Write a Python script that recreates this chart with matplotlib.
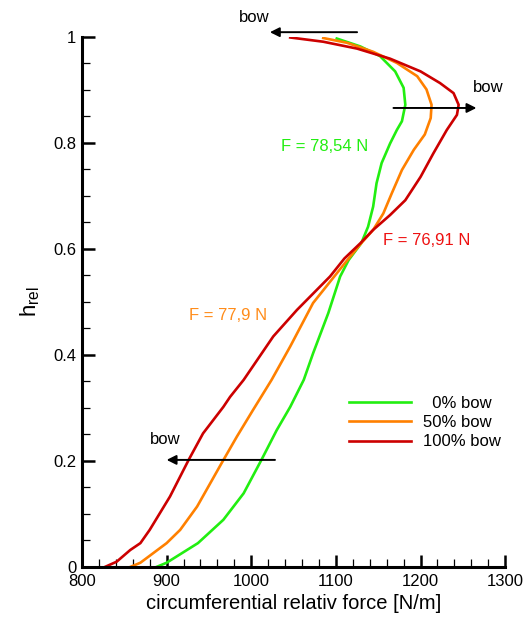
import matplotlib
matplotlib.use("Agg")
import matplotlib.pyplot as plt
from matplotlib.ticker import MultipleLocator, FuncFormatter

plt.rcParams['font.family'] = ['Liberation Sans', 'DejaVu Sans']

# 0% bow (green)
h_0 = [0, 0.008, 0.045, 0.089, 0.139, 0.202, 0.258, 0.302, 0.353, 0.403, 0.479, 0.548,
       0.579, 0.611, 0.642, 0.680, 0.724, 0.762, 0.799, 0.8245, 0.841, 0.872, 0.904,
       0.935, 0.964, 0.982, 0.997]
f_0 = [888, 900, 937, 967, 991, 1012, 1030, 1046, 1062, 1073, 1091, 1105,
       1115, 1130, 1138, 1144, 1148, 1154, 1164, 1172, 1178, 1182, 1180,
       1170, 1152, 1129, 1101]

# 50% bow (orange)
h_50 = [0, 0.008, 0.045, 0.07, 0.114, 0.196, 0.246, 0.296, 0.353, 0.416, 0.498, 0.554,
        0.582, 0.611, 0.636, 0.667, 0.705, 0.749, 0.787, 0.816, 0.847, 0.872, 0.901,
        0.926, 0.951, 0.972, 0.989, 0.998]
f_50 = [857, 869, 900, 916, 936, 965, 983, 1002, 1024, 1046, 1073, 1101,
        1115, 1130, 1144, 1156, 1166, 1178, 1192, 1205, 1212, 1213, 1207,
        1196, 1172, 1144, 1113, 1085]

# 100% bow (red)
h_100 = [0, 0.01, 0.032, 0.045, 0.07, 0.133, 0.202, 0.252, 0.302, 0.321, 0.353, 0.435,
         0.485, 0.548, 0.582, 0.611, 0.636, 0.664, 0.692, 0.736, 0.780, 0.8245, 0.853,
         0.872, 0.894, 0.913, 0.935, 0.959, 0.978, 0.991, 0.999]
f_100 = [827, 841, 857, 869, 880, 904, 926, 943, 967, 975, 991, 1026,
         1054, 1093, 1110, 1129, 1144, 1164, 1182, 1200, 1215, 1231, 1243,
         1245, 1239, 1223, 1200, 1164, 1125, 1085, 1046]

labels = ['\u20070% bow', '50% bow', '100% bow']
colors = ['#22ee11', '#ff8000', '#cc0000']

fig = plt.figure(figsize=(5.29, 6.21), dpi=100)
ax = fig.add_axes([0.155, 0.087, 0.8, 0.8535])

ax.plot(f_0, h_0, color=colors[0], lw=1.9, label=labels[0], solid_joinstyle='round')
ax.plot(f_50, h_50, color=colors[1], lw=1.9, label=labels[1], solid_joinstyle='round')
ax.plot(f_100, h_100, color=colors[2], lw=1.9, label=labels[2], solid_joinstyle='round')

ax.set_xlim(800, 1300)
ax.set_ylim(0, 1)
for s in ['top', 'right']:
    ax.spines[s].set_visible(False)
for s in ['left', 'bottom']:
    ax.spines[s].set_linewidth(2.2)

ax.xaxis.set_major_locator(MultipleLocator(100))
ax.xaxis.set_minor_locator(MultipleLocator(20))
ax.yaxis.set_major_locator(MultipleLocator(0.2))
ax.yaxis.set_minor_locator(MultipleLocator(0.05))
ax.yaxis.set_major_formatter(FuncFormatter(lambda v, p: '%g' % round(v, 2)))
ax.tick_params(which='major', direction='in', length=9, width=1.8, labelsize=12, pad=5)
ax.tick_params(which='minor', direction='in', length=6, width=0.9)
ax.tick_params(axis='y', which='major', pad=4)

ax.set_xlabel('circumferential relativ force [N/m]', fontsize=14.5, labelpad=4)
ax.set_ylabel(r'$\mathregular{h_{rel}}$', fontsize=16, labelpad=8)

ax.text(1087, 0.793, 'F = 78,54 N', color='#22ee11', fontsize=12, ha='center', va='center')
ax.text(1207, 0.616, 'F = 76,91 N', color='#ee1111', fontsize=12, ha='center', va='center')
ax.text(972, 0.475, 'F = 77,9 N', color='#ff8c1a', fontsize=12, ha='center', va='center')

arrow = dict(arrowstyle='-|>', color='black', lw=1.4, mutation_scale=14, shrinkA=0, shrinkB=0)
ax.annotate('', xy=(1022, 1.009), xytext=(1125, 1.009), arrowprops=arrow, annotation_clip=False)
ax.annotate('', xy=(1266, 0.866), xytext=(1168, 0.866), arrowprops=arrow)
ax.annotate('', xy=(900, 0.202), xytext=(1028, 0.202), arrowprops=arrow)
ax.text(1004, 1.036, 'bow', fontsize=12, ha='center', va='center', clip_on=False)
ax.text(1280, 0.904, 'bow', fontsize=12, ha='center', va='center')
ax.text(898, 0.24, 'bow', fontsize=12, ha='center', va='center')

ax.legend(loc='center right', bbox_to_anchor=(1.009, 0.272), frameon=False, fontsize=12,
          handlelength=3.7, handletextpad=0.7, labelspacing=0.25, borderpad=0)

fig.savefig('out.png', dpi=100)
